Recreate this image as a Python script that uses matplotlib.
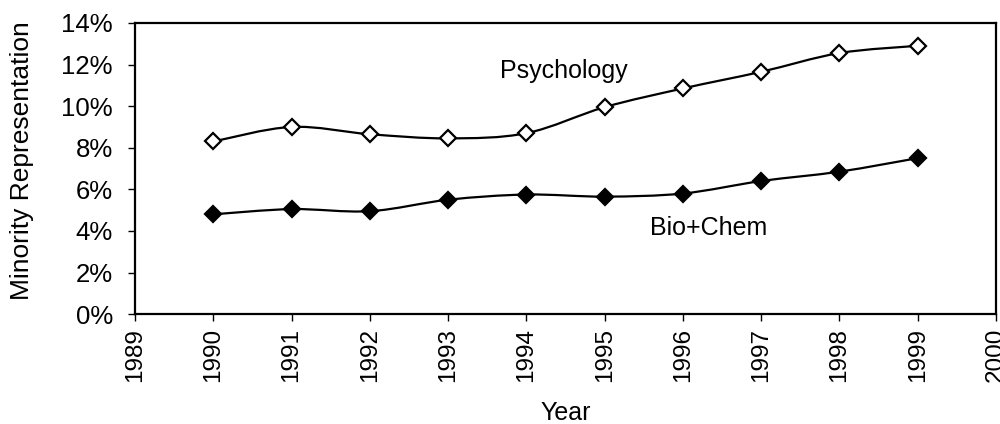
import numpy as np
import matplotlib.pyplot as plt
from matplotlib.path import Path
from matplotlib.patches import PathPatch
from matplotlib.ticker import FuncFormatter

plt.rcParams['font.family'] = ['Liberation Sans', 'DejaVu Sans']

years = [1990, 1991, 1992, 1993, 1994, 1995, 1996, 1997, 1998, 1999]
psychology = [8.3, 9.0, 8.65, 8.45, 8.7, 9.95, 10.85, 11.65, 12.55, 12.9]
bio_chem = [4.8, 5.05, 4.95, 5.5, 5.75, 5.65, 5.8, 6.4, 6.85, 7.5]


def smooth_path(x, y):
    # Excel-style smoothed line: cubic bezier through the points
    x = np.asarray(x, float)
    y = np.asarray(y, float)
    verts = [(x[0], y[0])]
    codes = [Path.MOVETO]
    n = len(x)
    for i in range(n - 1):
        x0, y0 = (x[i - 1], y[i - 1]) if i > 0 else (x[i], y[i])
        x3, y3 = (x[i + 2], y[i + 2]) if i + 2 < n else (x[i + 1], y[i + 1])
        c1 = (x[i] + (x[i + 1] - x0) / 6, y[i] + (y[i + 1] - y0) / 6)
        c2 = (x[i + 1] - (x3 - x[i]) / 6, y[i + 1] - (y3 - y[i]) / 6)
        verts += [c1, c2, (x[i + 1], y[i + 1])]
        codes += [Path.CURVE4] * 3
    return Path(verts, codes)


fig = plt.figure(figsize=(10, 4.24), dpi=100)
ax = fig.add_axes([0.135, 0.259, 0.861, 0.687])

for vals, face in [(psychology, 'white'), (bio_chem, 'black')]:
    ax.add_patch(PathPatch(smooth_path(years, vals), fill=False, lw=1.6, color='black', zorder=2))
    ax.plot(years, vals, linestyle='none', marker='D', markersize=8.5,
            markerfacecolor=face, markeredgecolor='black', markeredgewidth=1.6, zorder=3)

ax.text(1993.66, 11.35, 'Psychology', fontsize=18, va='baseline', ha='left')
ax.text(1995.58, 3.8, 'Bio+Chem', fontsize=18, va='baseline', ha='left')

ax.set_xlim(1989, 2000)
ax.set_ylim(0, 14)
ax.set_xticks(range(1989, 2001))
ax.set_yticks(range(0, 15, 2))
ax.yaxis.set_major_formatter(FuncFormatter(lambda v, p: f'{v:.0f}%'))
ax.tick_params(axis='x', labelrotation=90, labelsize=17.5, direction='out', length=5, width=1, pad=5)
ax.tick_params(axis='y', labelsize=18.5, direction='out', length=5, width=1, pad=11)
for s in ax.spines.values():
    s.set_linewidth(1.6)
    s.set_color('black')

ax.set_xlabel('Year', fontsize=18)
ax.set_ylabel('Minority Representation', fontsize=19)
ax.xaxis.set_label_coords(0.5, -0.34)
ax.yaxis.set_label_coords(-0.131, 0.526)
ax.xaxis.label.set_va('center')
ax.yaxis.label.set_va('center')

fig.savefig('out.png', dpi=100)
